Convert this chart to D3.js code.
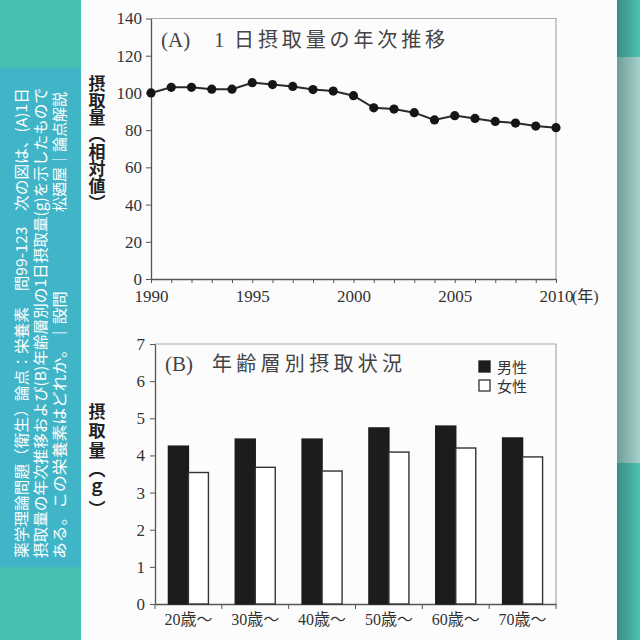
<html>
<head>
<meta charset="utf-8">
<script src="https://d3js.org/d3.v7.min.js"></script>
<style>
  body { margin: 0; background: #fcfcfc; }
  svg { display: block; }
</style>
</head>
<body>
<div id="chart"></div>
<script>
// (A) yearly intake, relative value
const years = [1990, 1991, 1992, 1993, 1994, 1995, 1996, 1997, 1998, 1999, 2000,
  2001, 2002, 2003, 2004, 2005, 2006, 2007, 2008, 2009, 2010];
const intake = [100, 103, 103, 102, 102, 105.5, 104.5, 103.5, 101.8, 101, 98.5,
  92, 91.3, 89.4, 85.5, 87.8, 86.3, 84.7, 83.8, 82.2, 81.3];
const yTicksA = [0, 20, 40, 60, 80, 100, 120, 140];
const yearLabels = [1990, 1995, 2000, 2005, 2010];

// (B) intake by age group (g)
const ageGroups = ["20歳～", "30歳～", "40歳～", "50歳～", "60歳～", "70歳～"];
const sexes = ["男性", "女性"];
const male = [4.25, 4.44, 4.44, 4.74, 4.79, 4.47];
const female = [3.54, 3.68, 3.58, 4.09, 4.2, 3.96];
const yTicksB = [0, 1, 2, 3, 4, 5, 6, 7];

// side band text
const sideLines = [
  "薬学理論問題（衛生）論点：栄養素　問99-123　次の図は、(A)1日",
  "摂取量の年次推移および(B)年齢層別の1日摂取量(g)を示したもので",
  "ある。この栄養素はどれか。｜設問"
];
const sideTag = "松廼屋｜論点解説";

const serif = "'Liberation Serif','DejaVu Serif','Noto Sans CJK JP',serif";
const gothic = "'Noto Sans CJK JP',sans-serif";

const svg = d3.select("#chart").append("svg")
  .attr("width", 640).attr("height", 640);

// ---- backgrounds ----
const defs = svg.append("defs");
let g1 = defs.append("linearGradient").attr("id", "edge");
g1.append("stop").attr("offset", "0%").attr("stop-color", "#3b8c82");
g1.append("stop").attr("offset", "100%").attr("stop-color", "#4cc2b0");
let g2 = defs.append("linearGradient").attr("id", "edgeMid");
g2.append("stop").attr("offset", "0%").attr("stop-color", "#6f9f9b");
g2.append("stop").attr("offset", "100%").attr("stop-color", "#a6d0cb");

svg.append("rect").attr("x", 0).attr("y", 0).attr("width", 640).attr("height", 640).attr("fill", "#fcfcfc");
svg.append("rect").attr("x", 0).attr("y", 0).attr("width", 81).attr("height", 640).attr("fill", "#45bfae");
svg.append("rect").attr("x", 0).attr("y", 68).attr("width", 81).attr("height", 499).attr("fill", "#41b5c8");
svg.append("rect").attr("x", 617).attr("y", 0).attr("width", 23).attr("height", 640).attr("fill", "url(#edge)");
svg.append("rect").attr("x", 617).attr("y", 57).attr("width", 23).attr("height", 406).attr("fill", "url(#edgeMid)");

// side text, rotated
const sideX = [27, 46, 65];
sideLines.forEach(function (t, i) {
  svg.append("text")
    .attr("transform", "translate(" + sideX[i] + "," + (i == 2 ? 559 : 558) + ") rotate(-90)")
    .attr("textLength", i == 2 ? 268 : 470)
    .attr("lengthAdjust", "spacingAndGlyphs")
    .style("font-family", gothic).style("font-size", "15px").attr("fill", "#fff")
    .text(t);
});
svg.append("text")
  .attr("transform", "translate(" + sideX[2] + ",212) rotate(-90)")
  .attr("textLength", 120)
  .attr("lengthAdjust", "spacingAndGlyphs")
  .style("font-family", gothic).style("font-size", "15px").attr("fill", "#fff")
  .text(sideTag);

function styleAxis(g, size) {
  g.attr("font-family", null);
  g.selectAll("text").style("font-family", serif).style("font-size", size + "px").attr("fill", "#333");
  g.selectAll("line").attr("stroke", "#555");
  g.select(".domain").attr("stroke", "#555").attr("stroke-width", 1.3);
}

// ---- chart A ----
const xA = d3.scaleLinear().domain([1990, 2010]).range([151, 556]);
const yA = d3.scaleLinear().domain([0, 140]).range([279, 18.5]);

svg.append("path")
  .attr("d", "M" + xA(1990) + "," + yA(140) + "H" + xA(2010) + "V" + yA(0))
  .attr("fill", "none").attr("stroke", "#aaa").attr("stroke-width", 1.2);

svg.append("g").attr("transform", "translate(" + xA(1990) + ",0)")
  .call(d3.axisLeft(yA).tickValues(yTicksA).tickSize(5).tickSizeOuter(0).tickPadding(4))
  .call(g => styleAxis(g, 17));

svg.append("g").attr("transform", "translate(0," + yA(0) + ")")
  .call(d3.axisBottom(xA).tickValues(years).tickSize(4).tickSizeOuter(0).tickPadding(7)
    .tickFormat(d => yearLabels.includes(d) ? String(d) : ""))
  .call(g => styleAxis(g, 17));

svg.append("text")
  .attr("x", xA(2010) + 16).attr("y", 302)
  .style("font-family", serif).style("font-size", "16px").attr("fill", "#333")
  .text("(年)");

const line = d3.line().x((d, i) => xA(years[i])).y(d => yA(d));
svg.append("path").datum(intake)
  .attr("d", line).attr("fill", "none").attr("stroke", "#2a2a2a").attr("stroke-width", 2);

svg.append("g").selectAll("circle").data(intake).enter().append("circle")
  .attr("cx", (d, i) => xA(years[i])).attr("cy", d => yA(d))
  .attr("r", 4.6).attr("fill", "#151515");

svg.append("text").attr("x", 161).attr("y", 47)
  .style("font-family", serif).style("font-size", "21px").attr("fill", "#444").text("(A)");
svg.append("text").attr("x", 214).attr("y", 47)
  .style("font-family", serif).style("font-size", "21px").attr("fill", "#444").text("1");
svg.append("text").attr("x", 234).attr("y", 47)
  .attr("textLength", 211).attr("lengthAdjust", "spacing")
  .style("font-family", gothic).style("font-size", "20px").attr("fill", "#444")
  .text("日摂取量の年次推移");

svg.append("text").attr("x", 97).attr("y", 75)
  .style("writing-mode", "vertical-rl")
  .style("font-family", gothic).style("font-size", "17px").style("font-weight", "bold")
  .attr("fill", "#222").text("摂取量（相対値）");

// ---- chart B ----
const xB = d3.scaleBand().domain(ageGroups).range([155, 556]);
const xSub = d3.scaleBand().domain(sexes).range([0, 40]);
const yB = d3.scaleLinear().domain([0, 7]).range([604, 344]);

svg.append("path")
  .attr("d", "M" + xB.range()[0] + "," + yB(7) + "H" + xB.range()[1] + "V" + yB(0))
  .attr("fill", "none").attr("stroke", "#aaa").attr("stroke-width", 1.2);

svg.append("g").attr("transform", "translate(" + xB.range()[0] + ",0)")
  .call(d3.axisLeft(yB).tickValues(yTicksB).tickFormat(d3.format("d"))
    .tickSize(5).tickSizeOuter(0).tickPadding(5))
  .call(g => styleAxis(g, 17));

svg.append("g").attr("transform", "translate(0," + yB(0) + ")")
  .call(d3.axisBottom(xB).tickSize(0).tickPadding(10))
  .call(g => styleAxis(g, 16));

// boundary ticks between age groups
const bounds = ageGroups.map(d => xB(d)).concat([xB.range()[1]]);
svg.append("g").selectAll("line").data(bounds).enter().append("line")
  .attr("x1", d => d).attr("x2", d => d)
  .attr("y1", yB(0)).attr("y2", yB(0) + 5)
  .attr("stroke", "#555");

const barData = [];
ageGroups.forEach(function (a, i) {
  barData.push({ age: a, sex: "男性", v: male[i] });
  barData.push({ age: a, sex: "女性", v: female[i] });
});
const off = (xB.bandwidth() - 40) / 2;
svg.append("g").selectAll("rect").data(barData).enter().append("rect")
  .attr("x", d => xB(d.age) + off + xSub(d.sex))
  .attr("y", d => yB(d.v))
  .attr("width", xSub.bandwidth())
  .attr("height", d => yB(0) - yB(d.v))
  .attr("fill", d => d.sex == "男性" ? "#1c1c1c" : "#fff")
  .attr("stroke", d => d.sex == "男性" ? "#1c1c1c" : "#333")
  .attr("stroke-width", 1.4);

svg.append("text").attr("x", 165).attr("y", 371)
  .style("font-family", serif).style("font-size", "21px").attr("fill", "#444").text("(B)");
svg.append("text").attr("x", 212).attr("y", 371)
  .attr("textLength", 190).attr("lengthAdjust", "spacing")
  .style("font-family", gothic).style("font-size", "20px").attr("fill", "#444")
  .text("年齢層別摂取状況");

// legend
svg.append("g").selectAll("rect").data(sexes).enter().append("rect")
  .attr("x", 479).attr("y", (d, i) => 361 + i * 19)
  .attr("width", 11).attr("height", 11)
  .attr("fill", (d, i) => i == 0 ? "#1c1c1c" : "#fff")
  .attr("stroke", (d, i) => i == 0 ? "#1c1c1c" : "#333").attr("stroke-width", 1.3);
svg.append("g").selectAll("text").data(sexes).enter().append("text")
  .attr("x", 497).attr("y", (d, i) => 373 + i * 19)
  .style("font-family", serif).style("font-size", "15px").attr("fill", "#333")
  .text(d => d);

svg.append("text").attr("x", 97).attr("y", 403)
  .style("writing-mode", "vertical-rl").style("letter-spacing", "2.5px")
  .style("font-family", gothic).style("font-size", "17px").style("font-weight", "bold")
  .attr("fill", "#222").text("摂取量（ｇ）");
</script>
</body>
</html>
